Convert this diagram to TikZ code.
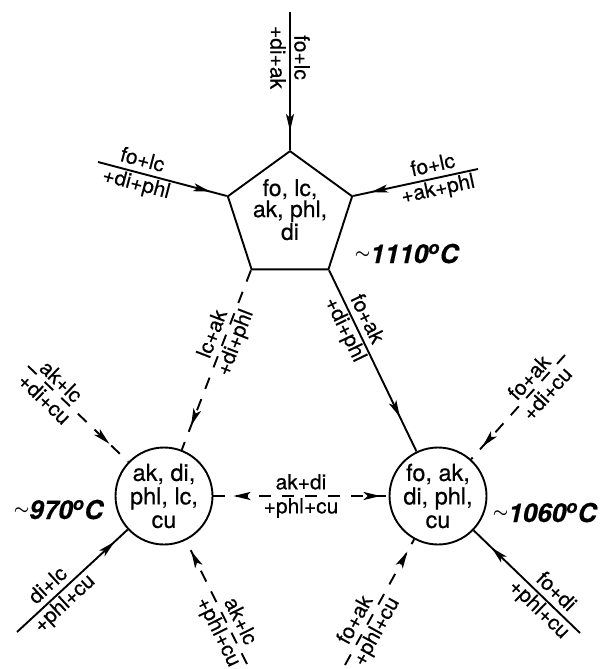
\documentclass[tikz,border=0pt]{standalone}
\usepackage{fontspec}
\setmainfont{TeX Gyre Heros}[FakeBold=0.4]
\usepackage{tikz}
\usetikzlibrary{arrows.meta,shapes.geometric,decorations.markings}

\newcommand{\approxsign}{\raisebox{4.5pt}{\fontsize{18}{18}\selectfont$\sim$}}

\begin{document}
\begin{tikzpicture}[x=1pt, y=-1pt, line width=1.9pt,
    >={Stealth[length=17pt,width=8pt,inset=4pt]},
    melt_poly/.style={draw, regular polygon, regular polygon sides=5, minimum size=125pt, inner sep=0pt, align=center, font=\fontsize{23}{20}\selectfont},
    melt_circ/.style={draw, circle, minimum size=97pt, inner sep=0pt, align=center, font=\fontsize{23.5}{23.5}\selectfont},
    reac/.style={draw, postaction={decorate}, decoration={markings, mark=at position -#1 with {\arrow{>}}}},
    reac_dash/.style={reac=#1, dash pattern=on 12pt off 11pt},
    lbl/.style={align=center, inner sep=0pt, font=\fontsize{21}{24}\selectfont},
    temp/.style={anchor=base west, inner sep=0pt, font=\fontsize{26}{26}\selectfont\bfseries\itshape\boldmath}
]
    \useasboundingbox (0,0) rectangle (611,669);

    % Nodes
    \node[melt_poly] (pent) at (290,216.5) {fo, lc,\\ak, phl,\\di\rule[-14pt]{0pt}{0pt}};
    \node[melt_circ] (lcirc) at (164,496) {ak, di,\\phl, lc,\\cu};
    \node[melt_circ] (rcirc) at (438,496) {fo, ak,\\di, phl,\\cu};

    \node[temp] (t1110) at (354,263) {\approxsign1110\textsuperscript{o}C};
    \node[temp] (t970) at (13,519) {\approxsign970\textsuperscript{o}C};
    \node[temp] (t1060) at (492,522) {\approxsign1060\textsuperscript{o}C};

    % Free ends
    \coordinate (in_top) at (290,12);
    \coordinate (in_ul) at (98,162);
    \coordinate (in_ur) at (478,169);
    \coordinate (l_ul) at (28,366);
    \coordinate (l_ll) at (17,632);
    \coordinate (l_lr) at (247,664);
    \coordinate (r_ur) at (565,355);
    \coordinate (r_lr) at (580,633);
    \coordinate (r_ll) at (345,665);

    % Reactions into the pentagon
    \draw[reac=19pt] (in_top) -- node[lbl, pos=.33, rotate=-90] {fo+lc\\+di+ak} (pent.corner 1);
    \draw[reac=17pt] (in_ul) -- node[lbl, sloped, pos=.32] {fo+lc\\+di+phl} (pent.corner 2);
    \draw[reac=18pt] (in_ur) -- node[lbl, sloped, pos=.34] {fo+lc\\+ak+phl} (pent.corner 5);

    % Pentagon to circles
    \draw[reac_dash=26pt] (pent.corner 3) -- node[lbl, sloped, pos=.38] {lc+ak\\+di+phl} (lcirc);
    \draw[reac=38pt] (pent.corner 4) -- node[lbl, sloped, pos=.3] {fo+ak\\+di+phl} (rcirc);

    % Reactions at the left circle
    \draw[reac_dash=26pt] (l_ul) -- node[lbl, sloped, pos=.25] {ak+lc\\+di+cu} (lcirc);
    \draw[reac=18pt] (l_ll) -- node[lbl, sloped, pos=.36] {di+lc\\+phl+cu} (lcirc);
    \draw[reac_dash=12pt] (l_lr) -- node[lbl, sloped, pos=.3] {ak+lc\\+phl+cu} (lcirc);

    % Between the circles
    \draw[dash pattern=on 12pt off 11pt, postaction={decorate},
        decoration={markings, mark=at position 20pt with {\arrowreversed{>}}, mark=at position -8pt with {\arrow{>}}}]
        (lcirc) -- node[lbl, sloped, midway] {ak+di\\+phl+cu} (rcirc);

    % Reactions at the right circle
    \draw[reac_dash=17pt] (r_ur) -- node[lbl, sloped, pos=.29] {fo+ak\\+di+cu} (rcirc);
    \draw[reac=25pt] (r_lr) -- node[lbl, sloped, pos=.31] {fo+di\\+phl+cu} (rcirc);
    \draw[reac_dash=14pt] (r_ll) -- node[lbl, sloped, pos=.31] {fo+ak\\+phl+cu} (rcirc);
\end{tikzpicture}
\end{document}
